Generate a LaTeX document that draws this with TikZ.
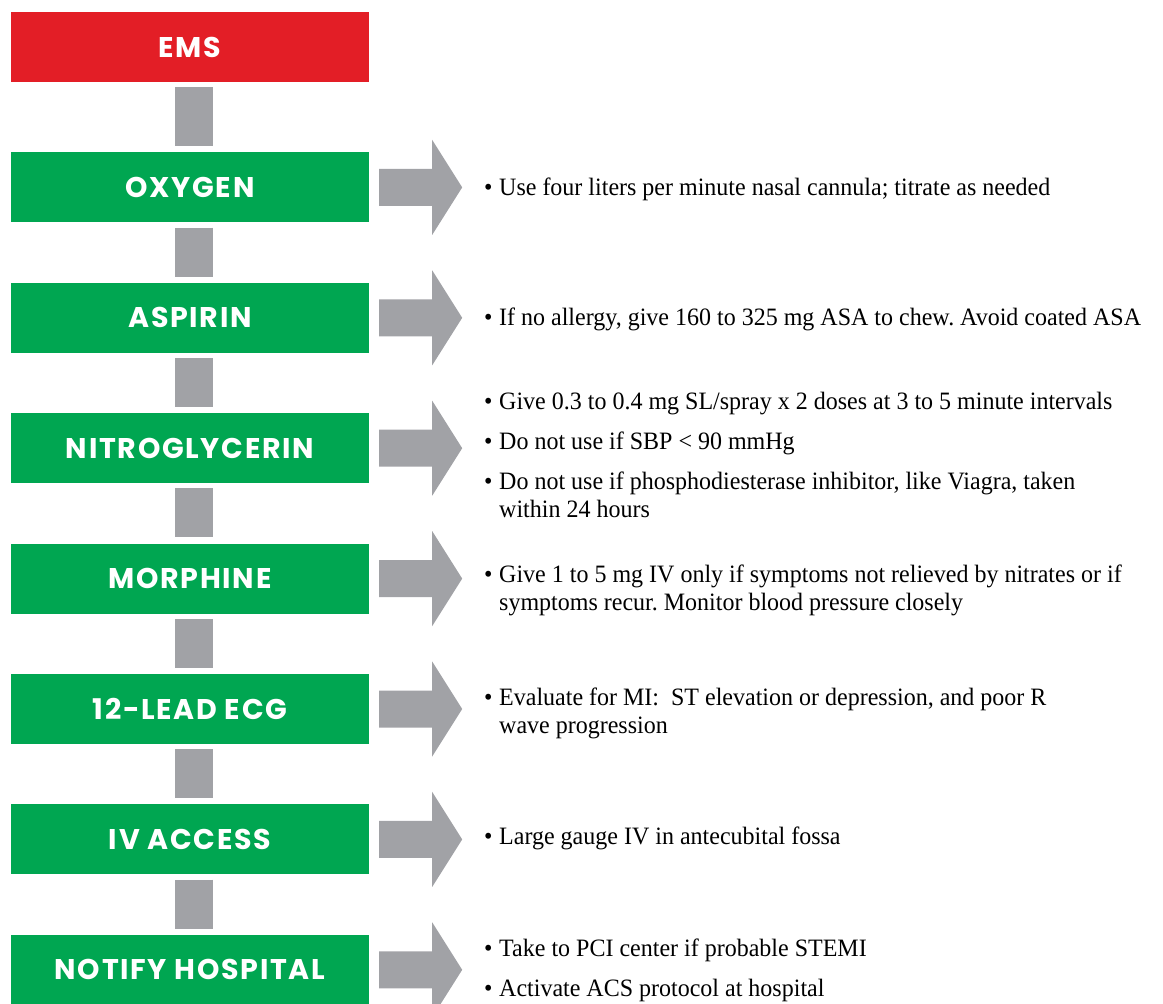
\documentclass[tikz,border=0pt]{standalone}
\usepackage{fontspec}
\setmainfont{Liberation Serif}[FakeStretch=0.96]
\newfontfamily\boxfont{Poppins}[LetterSpace=6]
\usetikzlibrary{positioning}
\frenchspacing

\definecolor{emsred}{HTML}{E31E26}
\definecolor{stepgreen}{HTML}{00A651}
\definecolor{bargray}{HTML}{A1A2A6}

\newcommand{\blt}{\makebox[15pt][l]{\textbullet}}
\newcommand{\ind}{\hspace*{15pt}}
% grey block arrow from a step box to its notes
\newcommand{\sidearrow}[1]{%
  \fill[bargray] ([xshift=10pt,yshift=18.5pt]#1.east) -- ++(53,0) -- ++(0,-29)
    -- ++(30,47.5) -- ++(-30,47.5) -- ++(0,-29) -- ++(-53,0) -- cycle;}

\begin{document}
\begin{tikzpicture}[x=1pt,y=-1pt,
  stepbox/.style={minimum width=358pt,minimum height=70pt,inner sep=0pt,
    fill=stepgreen,text=white,font=\boxfont\bfseries\fontsize{28.5}{32}\selectfont},
  link/.style={draw=bargray,line width=38pt},
  note/.style={anchor=base west,inner sep=0pt,align=left,
    font=\fontsize{25}{28}\selectfont}]
\useasboundingbox (0,0) rectangle (1163,1004);

% steps
\node[stepbox,fill=emsred] (ems) at (190,47) {EMS};
\node[stepbox,below=70pt of ems] (oxygen) {OXYGEN};
\node[stepbox,below=60pt of oxygen] (aspirin) {ASPIRIN};
\node[stepbox,below=60pt of aspirin] (nitro) {NITROGLYCERIN};
\node[stepbox,below=60pt of nitro] (morphine) {MORPHINE};
\node[stepbox,below=60pt of morphine] (ecg) {12-LEAD ECG};
\node[stepbox,below=60pt of ecg] (iv) {IV ACCESS};
\node[stepbox,below=60pt of iv] (notify) {NOTIFY HOSPITAL};

% links between steps
\foreach \a/\b in {ems/oxygen,oxygen/aspirin,aspirin/nitro,nitro/morphine,
                   morphine/ecg,ecg/iv,iv/notify}
  \draw[link] ([xshift=4pt,yshift=-5pt]\a.south) -- ([xshift=4pt,yshift=6pt]\b.north);

% arrows to the notes
\foreach \s in {oxygen,aspirin,nitro,morphine,ecg,iv,notify}
  {\sidearrow{\s}}

% notes (base = baseline of the last line)
\node[note] (oxygen-note) at (484,195) {\blt Use four liters per minute nasal cannula; titrate as needed};
\node[note] (aspirin-note) at (484,325) {\blt If no allergy, give 160 to 325 mg ASA to chew. Avoid coated ASA};
\node[note] (nitro-note) at (484,517) {\blt Give 0.3 to 0.4 mg SL/spray x 2 doses at 3 to 5 minute intervals\\[12pt]
  \blt Do not use if SBP < 90 mmHg\\[12pt]
  \blt Do not use if phosphodiesterase inhibitor, like Viagra, taken\\
  \ind within 24 hours};
\node[note] (morphine-note) at (484,610) {\blt Give 1 to 5 mg IV only if symptoms not relieved by nitrates or if\\
  \ind symptoms recur. Monitor blood pressure closely};
\node[note] (ecg-note) at (484,733) {\blt Evaluate for MI:~~ST elevation or depression, and poor R\\
  \ind wave progression};
\node[note] (iv-note) at (484,844) {\blt Large gauge IV in antecubital fossa};
\node[note] (notify-note) at (484,996) {\blt Take to PCI center if probable STEMI\\[12pt]
  \blt Activate ACS protocol at hospital};
\end{tikzpicture}
\end{document}
